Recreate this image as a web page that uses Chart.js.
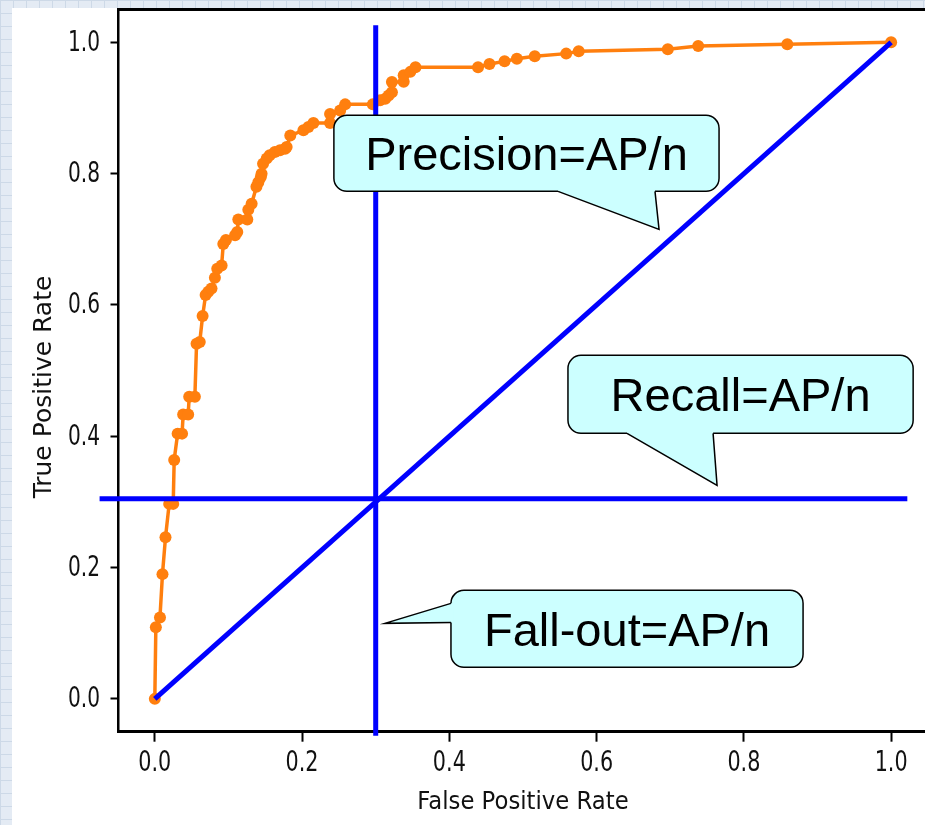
<!DOCTYPE html>
<html>
<head>
<meta charset="utf-8">
<script src="https://cdn.jsdelivr.net/npm/chart.js@4.4.1/dist/chart.umd.min.js"></script>
<style>
  html, body { margin: 0; padding: 0; }
  body {
    width: 925px; height: 825px; overflow: hidden; position: relative;
    background-color: #e4ebf4;
    background-image: linear-gradient(#cdd9e7 1px, transparent 1px),
                      linear-gradient(90deg, #cdd9e7 1px, transparent 1px);
    background-size: 13px 13px;
  }
  #paper { position: absolute; left: 12px; top: 8px; right: 0; bottom: 0; background: #fff; }
  #c { position: absolute; left: 0; top: 0; }
</style>
</head>
<body>
<div id="paper"></div>
<canvas id="c" width="925" height="825"></canvas>
<script>
// ROC curve
const fprValues = [0, 0.0014, 0.007, 0.0104, 0.0145, 0.0195, 0.025, 0.0263, 0.031, 0.037,
  0.0385, 0.0453, 0.0467, 0.0544, 0.0567, 0.061, 0.0649, 0.069, 0.0726, 0.077,
  0.0816, 0.0848, 0.0907, 0.093, 0.0966, 0.109, 0.112, 0.1134, 0.1256, 0.127,
  0.1315, 0.138, 0.1406, 0.144, 0.145, 0.147, 0.152, 0.156, 0.163, 0.170,
  0.177, 0.179, 0.184, 0.2018, 0.2086, 0.2154, 0.238, 0.238, 0.2517, 0.2585,
  0.296, 0.306, 0.313, 0.3175, 0.322, 0.322, 0.338, 0.338, 0.347, 0.354,
  0.439, 0.4545, 0.475, 0.4917, 0.516, 0.5587, 0.5757, 0.6967, 0.738, 0.859, 1.0];
const tprValues = [0, 0.109, 0.124, 0.190, 0.246, 0.297, 0.297, 0.364, 0.404, 0.404,
  0.433, 0.433, 0.460, 0.460, 0.541, 0.5435, 0.583, 0.615, 0.620, 0.625,
  0.6416, 0.655, 0.660, 0.693, 0.699, 0.706, 0.711, 0.730, 0.730, 0.745,
  0.754, 0.780, 0.787, 0.795, 0.800, 0.815, 0.823, 0.828, 0.833, 0.8355,
  0.838, 0.8405, 0.858, 0.866, 0.871, 0.877, 0.877, 0.891, 0.896, 0.9055,
  0.9055, 0.9117, 0.914, 0.919, 0.924, 0.9395, 0.940, 0.950, 0.955, 0.962,
  0.962, 0.967, 0.971, 0.975, 0.9787, 0.9828, 0.9863, 0.9893, 0.9944, 0.997, 1.0];

// blue guide lines
const diagonalX = [0, 1];
const diagonalY = [0, 1];
const fallOutX = [0.3, 0.3];
const fallOutY = [-0.056, 1.026];
const recallX = [-0.075, 1.022];
const recallY = [0.305, 0.305];

// ticks
const xTickValues = [0, 0.2, 0.4, 0.6, 0.8, 1.0];
const xTickLabels = ['0.0', '0.2', '0.4', '0.6', '0.8', '1.0'];
const yTickValues = [0, 0.2, 0.4, 0.6, 0.8, 1.0];
const yTickLabels = ['0.0', '0.2', '0.4', '0.6', '0.8', '1.0'];

const xTitle = 'False Positive Rate';
const yTitle = 'True Positive Rate';

// callout bubbles, in data units
const callouts = [
  { text: 'Precision=AP/n', box: [0.2432, 0.7663, 0.773, 0.8888], side: 'bottom', base: [0.5476, 0.6793], tip: [0.6848, 0.7151] },
  { text: 'Recall=AP/n', box: [0.5611, 1.0299, 0.4044, 0.5232], side: 'bottom', base: [0.6413, 0.7582], tip: [0.7636, 0.3252] },
  { text: 'Fall-out=AP/n', box: [0.4022, 0.8804, 0.048, 0.1653], side: 'left', base: [0.1455, 0.1165], tip: [0.3125, 0.115] }
];

function pts(xs, ys) {
  return xs.map((x, i) => ({ x: x, y: ys[i] }));
}

// top spine, tick labels and axis titles (squeezed like the picture)
const axisText = {
  id: 'axisText',
  afterDraw(chart) {
    const ctx = chart.ctx, a = chart.chartArea;
    const xs = chart.scales.x, ys = chart.scales.y;
    ctx.save();
    ctx.strokeStyle = '#000';
    ctx.lineWidth = 3;
    ctx.beginPath();
    ctx.moveTo(a.left - 1, a.top);
    ctx.lineTo(a.right, a.top);
    ctx.stroke();

    ctx.fillStyle = '#111';
    ctx.font = '28px "DejaVu Sans"';
    ctx.textBaseline = 'middle';
    ctx.textAlign = 'center';
    xTickValues.forEach((v, i) => {
      ctx.save();
      ctx.translate(xs.getPixelForValue(v), 764);
      ctx.scale(0.74, 1);
      ctx.fillText(xTickLabels[i], 0, 0);
      ctx.restore();
    });
    ctx.textAlign = 'right';
    yTickValues.forEach((v, i) => {
      ctx.save();
      ctx.translate(100, ys.getPixelForValue(v) + 1);
      ctx.scale(0.72, 1);
      ctx.fillText(yTickLabels[i], 0, 0);
      ctx.restore();
    });

    ctx.textAlign = 'center';
    ctx.font = '25px "DejaVu Sans"';
    ctx.save();
    ctx.translate(523, 802);
    ctx.scale(0.91, 1);
    ctx.fillText(xTitle, 0, 0);
    ctx.restore();

    ctx.font = '25px "DejaVu Sans"';
    ctx.save();
    ctx.translate(44, 387);
    ctx.rotate(-Math.PI / 2);
    ctx.fillText(yTitle, 0, 0);
    ctx.restore();
    ctx.restore();
  }
};

const bubbles = {
  id: 'bubbles',
  afterDraw(chart) {
    const ctx = chart.ctx;
    const xs = chart.scales.x, ys = chart.scales.y;
    ctx.save();
    callouts.forEach(c => {
      const l = xs.getPixelForValue(c.box[0]), r = xs.getPixelForValue(c.box[1]);
      const b = ys.getPixelForValue(c.box[2]), t = ys.getPixelForValue(c.box[3]);
      const tx = xs.getPixelForValue(c.tip[0]), ty = ys.getPixelForValue(c.tip[1]);
      let p1, p2, q1, q2;
      if (c.side === 'bottom') {
        const u = xs.getPixelForValue(c.base[0]), w = xs.getPixelForValue(c.base[1]);
        p1 = [u, b]; p2 = [w, b]; q1 = [u, b - 3]; q2 = [w, b - 3];
      } else {
        const u = ys.getPixelForValue(c.base[0]), w = ys.getPixelForValue(c.base[1]);
        p1 = [l, u]; p2 = [l, w]; q1 = [l + 3, u]; q2 = [l + 3, w];
      }
      ctx.fillStyle = '#ccffff';
      ctx.strokeStyle = '#000';
      ctx.lineWidth = 1.5;
      ctx.beginPath();
      ctx.roundRect(l, t, r - l, b - t, 13);
      ctx.fill();
      ctx.stroke();
      ctx.beginPath();
      ctx.moveTo(q1[0], q1[1]);
      ctx.lineTo(p1[0], p1[1]);
      ctx.lineTo(tx, ty);
      ctx.lineTo(p2[0], p2[1]);
      ctx.lineTo(q2[0], q2[1]);
      ctx.closePath();
      ctx.fill();
      ctx.beginPath();
      ctx.moveTo(p1[0], p1[1]);
      ctx.lineTo(tx, ty);
      ctx.lineTo(p2[0], p2[1]);
      ctx.stroke();

      ctx.fillStyle = '#000';
      ctx.font = '47px "Liberation Sans", Arial, sans-serif';
      ctx.textAlign = 'center';
      ctx.textBaseline = 'alphabetic';
      ctx.fillText(c.text, (l + r) / 2, (t + b) / 2 + 0.716 * 47 / 2);
    });
    ctx.restore();
  }
};

const blueLine = {
  showLine: true, borderColor: '#0000ff', borderWidth: 5, pointRadius: 0,
  clip: false, order: 0, borderCapStyle: 'butt'
};

new Chart(document.getElementById('c'), {
  type: 'scatter',
  data: {
    datasets: [
      Object.assign({ data: pts(fallOutX, fallOutY) }, blueLine),
      Object.assign({ data: pts(recallX, recallY) }, blueLine),
      Object.assign({ data: pts(diagonalX, diagonalY) }, blueLine),
      {
        data: pts(fprValues, tprValues),
        showLine: true,
        borderColor: '#ff7f0e',
        backgroundColor: '#ff7f0e',
        borderWidth: 3.5,
        pointRadius: 6,
        pointBorderWidth: 0,
        order: 1
      }
    ]
  },
  options: {
    responsive: false,
    animation: false,
    devicePixelRatio: 1,
    events: [],
    layout: { autoPadding: false, padding: { top: 9.5, right: 0, bottom: 0, left: 0 } },
    plugins: { legend: { display: false }, tooltip: { enabled: false } },
    scales: {
      x: {
        type: 'linear',
        min: -0.05,
        max: 1.046,
        afterFit: s => { s.height = 93.3; s.paddingLeft = 0; s.paddingRight = 0; },
        afterBuildTicks: s => { s.ticks = xTickValues.map(v => ({ value: v })); },
        ticks: { display: false },
        grid: { drawOnChartArea: false, drawTicks: true, tickLength: 10, tickWidth: 2, tickColor: '#000' },
        border: { color: '#000', width: 3 }
      },
      y: {
        type: 'linear',
        min: -0.05,
        max: 1.05,
        afterFit: s => { s.width = 118; s.paddingTop = 0; s.paddingBottom = 0; },
        afterBuildTicks: s => { s.ticks = yTickValues.map(v => ({ value: v })); },
        ticks: { display: false },
        grid: { drawOnChartArea: false, drawTicks: true, tickLength: 7.5, tickWidth: 2, tickColor: '#000' },
        border: { color: '#000', width: 2.5 }
      }
    }
  },
  plugins: [axisText, bubbles]
});
</script>
</body>
</html>
